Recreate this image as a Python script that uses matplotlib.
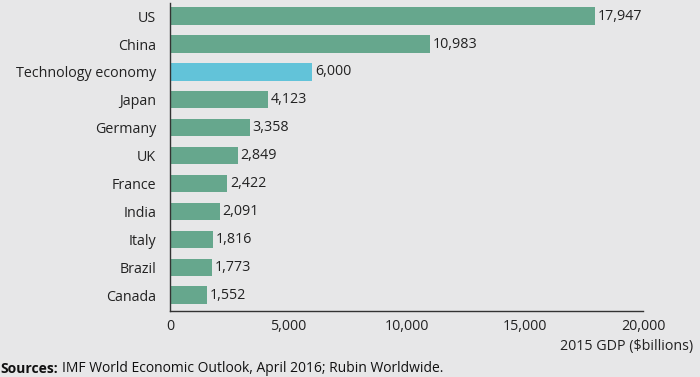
import matplotlib.pyplot as plt

countries = ['US', 'China', 'Technology economy', 'Japan', 'Germany', 'UK',
             'France', 'India', 'Italy', 'Brazil', 'Canada']
gdp = [17947, 10983, 6000, 4123, 3358, 2849, 2422, 2091, 1816, 1773, 1552]
highlight = 'Technology economy'
ticks = [0, 5000, 10000, 15000, 20000]

bg = '#e7e7e8'
green = '#66a78d'
blue = '#62c3d9'
plt.rcParams['font.family'] = ['Open Sans', 'DejaVu Sans']

fig = plt.figure(figsize=(7, 3.77), dpi=100, facecolor=bg)
ax = fig.add_axes([0.243, 0.175, 0.676, 0.817], facecolor=bg)

ypos = list(range(len(countries)))
colors = [blue if c == highlight else green for c in countries]
bars = ax.barh(ypos, gdp, height=0.62, color=colors)
for b, v in zip(bars, gdp):
    ax.text(b.get_width() + 120, b.get_y() + b.get_height() / 2, f'{v:,}',
            va='center', ha='left', fontsize=10.3, color='#222222')

ax.set_yticks(ypos)
ax.set_yticklabels(countries, fontsize=10.3, color='#222222')
ax.set_ylim(len(countries) - 0.43, -0.47)
ax.set_xlim(0, 20000)
ax.set_xticks(ticks)
ax.set_xticklabels([f'{t:,}' for t in ticks], fontsize=10.3, color='#222222')
ax.tick_params(length=0, pad=6)
ax.tick_params(axis='y', pad=10)
for s in ['top', 'right']:
    ax.spines[s].set_visible(False)
for s in ['left', 'bottom']:
    ax.spines[s].set_color('#333333')
    ax.spines[s].set_linewidth(1)

fig.text(0.99, 0.08, '2015 GDP ($billions)', ha='right', va='center',
         fontsize=10.3, color='#222222')
src = fig.text(0.0, 0.022, 'Sources:', ha='left', va='center', fontsize=10,
               fontweight='bold', color='#111111')
r = fig.canvas.get_renderer()
x1 = src.get_window_extent(r).x1 / fig.bbox.width
fig.text(x1 + 0.006, 0.022, 'IMF World Economic Outlook, April 2016; Rubin Worldwide.',
         ha='left', va='center', fontsize=10, color='#111111')

fig.savefig('out.png', dpi=100, facecolor=bg)
